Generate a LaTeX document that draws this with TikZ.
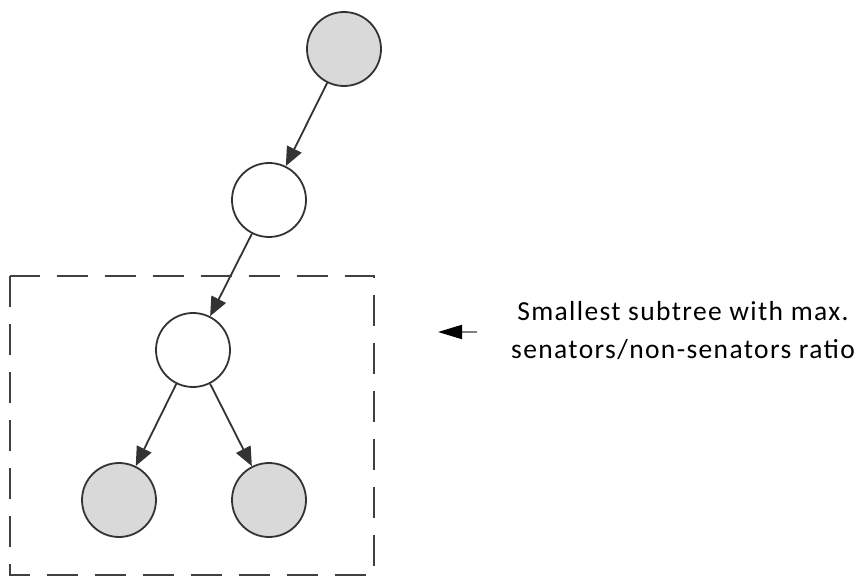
\documentclass[tikz,border=0pt]{standalone}
\usepackage{fontspec}
\setmainfont{Carlito}
\usetikzlibrary{arrows.meta}
\definecolor{nodegray}{HTML}{D9D9D9}
\definecolor{edgegray}{HTML}{333333}
\definecolor{boxgray}{HTML}{404040}
\begin{document}
\begin{tikzpicture}[x=1pt,y=-1pt,
  treenode/.style={circle,draw=edgegray,line width=1.8pt,minimum size=74pt,inner sep=0pt},
  leaf/.style={treenode,fill=nodegray},
  inner/.style={treenode,fill=white},
  edge/.style={draw=edgegray,line width=1.8pt,-{Triangle[length=19pt,width=16pt]}},
  pointer/.style={draw=gray,line width=2pt,-{Triangle[length=24pt,width=14pt,color=black]}},
  box/.style={draw=boxgray,line width=2pt,dash pattern=on 31pt off 17pt}]
\useasboundingbox (0,0) rectangle (865,577);
\node[leaf]  (r)  at (344,49)  {};
\node[inner] (m)  at (269,200) {};
\node[inner] (s)  at (193,350) {};
\node[leaf]  (bl) at (119,500) {};
\node[leaf]  (br) at (269,500) {};
\draw[edge] (r) -- (m);
\draw[edge] (m) -- (s);
\draw[edge] (s) -- (bl);
\draw[edge] (s) -- (br);
\coordinate (bx1) at (10,276);
\coordinate (bx2) at (374,575);
\draw[box] (bx1) rectangle (bx2);
\node[align=center,font=\addfontfeatures{LetterSpace=5}\fontsize{27.5}{38}\selectfont,text=black,inner sep=0pt] (lbl) at (683,331)
  {Smallest subtree with max.\\senators/non-senators ratio};
\coordinate (ptail) at (477,332);
\coordinate (phead) at (438,332);
\draw[pointer] (ptail) -- (phead);
\end{tikzpicture}
\end{document}
